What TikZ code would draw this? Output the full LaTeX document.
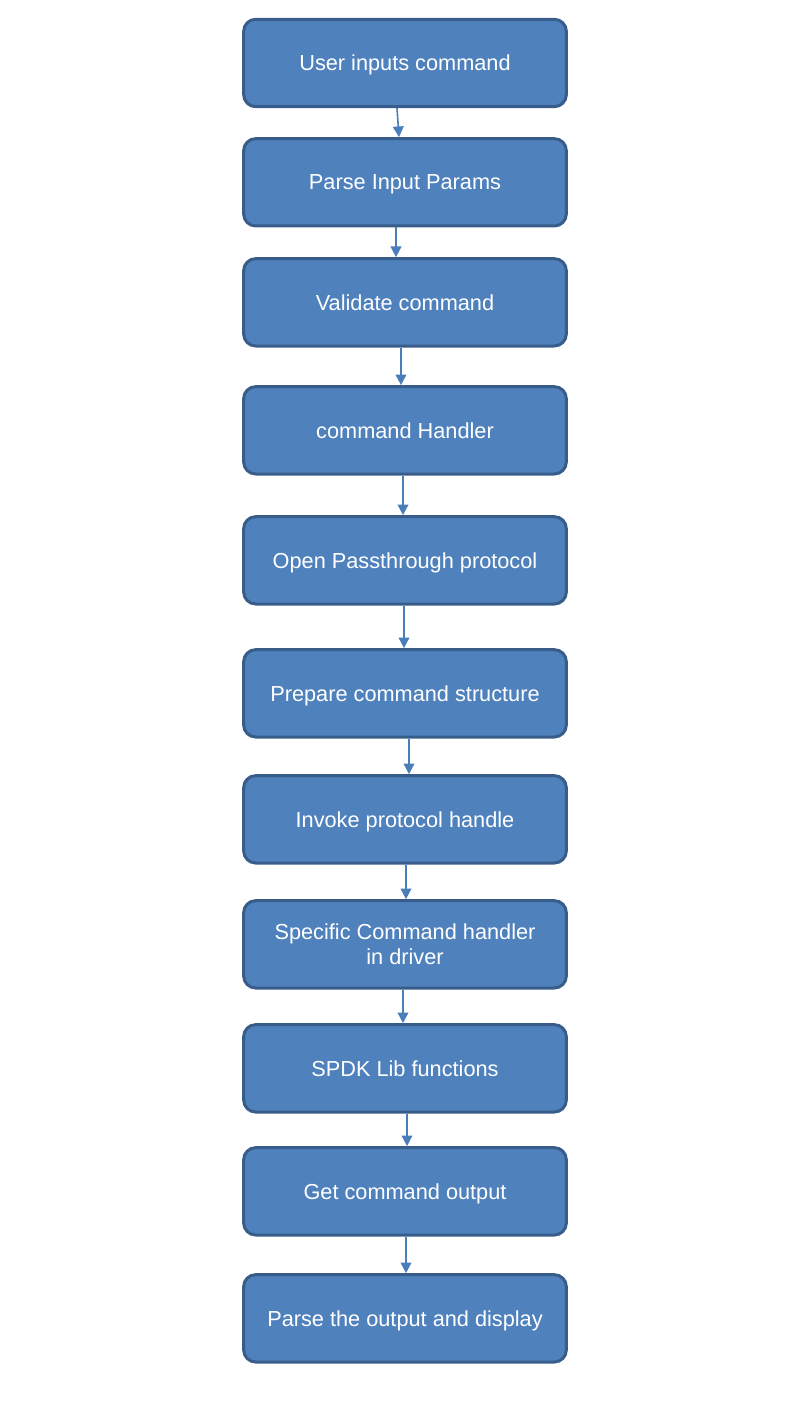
\documentclass[tikz,border=0pt]{standalone}
\usepackage{fontspec}
\setmainfont{Liberation Sans}
\usetikzlibrary{positioning, arrows.meta}
\definecolor{boxfill}{HTML}{4F81BD}
\definecolor{boxline}{HTML}{385D8A}
\definecolor{flowline}{HTML}{4A7EBB}
\tikzset{
  stepbox/.style={draw=boxline, fill=boxfill, line width=2.25pt, rounded corners=9pt,
    minimum width=242pt, minimum height=65.5pt, text=white, align=center,
    text depth=0pt, font=\fontsize{16.3}{19}\selectfont},
  flow/.style={draw=flowline, line width=1.2pt, -{Triangle[width=8pt,length=8pt]}},
}
\begin{document}
\begin{tikzpicture}
	\useasboundingbox (0,0) rectangle (606pt,-1069.5pt);

	% steps
	\node[stepbox] (inp) at (303.75pt,-47.25pt) {User inputs command};
	\node[stepbox, below=21.75pt of inp] (parse) {Parse Input Params};
	\node[stepbox, below=22.25pt of parse] (valid) {Validate command};
	\node[stepbox, below=28.25pt of valid] (hdl) {command Handler};
	\node[stepbox, below=29.75pt of hdl] (open) {Open Passthrough protocol};
	\node[stepbox, below=32pt of open] (prep) {Prepare command structure};
	\node[stepbox, below=26.75pt of prep] (invk) {Invoke protocol handle};
	\node[stepbox, below=26pt of invk] (spec) {Specific Command handler\\in driver};
	\node[stepbox, below=25.25pt of spec] (spdk) {SPDK Lib functions};
	\node[stepbox, below=24.5pt of spdk] (get) {Get command output};
	\node[stepbox, below=27.5pt of get] (disp) {Parse the output and display};

	% flow
	\draw[flow] ([xshift=-6pt]inp.south) -- ([xshift=-4.5pt]parse.north);
	\draw[flow] ([xshift=-6.75pt]parse.south) -- ([xshift=-6.75pt]valid.north);
	\draw[flow] ([xshift=-3pt]valid.south) -- ([xshift=-3pt]hdl.north);
	\draw[flow] ([xshift=-1.5pt]hdl.south) -- ([xshift=-1.5pt]open.north);
	\draw[flow] ([xshift=-0.75pt]open.south) -- ([xshift=-0.75pt]prep.north);
	\draw[flow] ([xshift=3pt]prep.south) -- ([xshift=3pt]invk.north);
	\draw[flow] ([xshift=0.75pt]invk.south) -- ([xshift=0.75pt]spec.north);
	\draw[flow] ([xshift=-1.5pt]spec.south) -- ([xshift=-1.5pt]spdk.north);
	\draw[flow] ([xshift=1.5pt]spdk.south) -- ([xshift=1.5pt]get.north);
	\draw[flow] ([xshift=0.75pt]get.south) -- ([xshift=0.75pt]disp.north);
\end{tikzpicture}
\end{document}
